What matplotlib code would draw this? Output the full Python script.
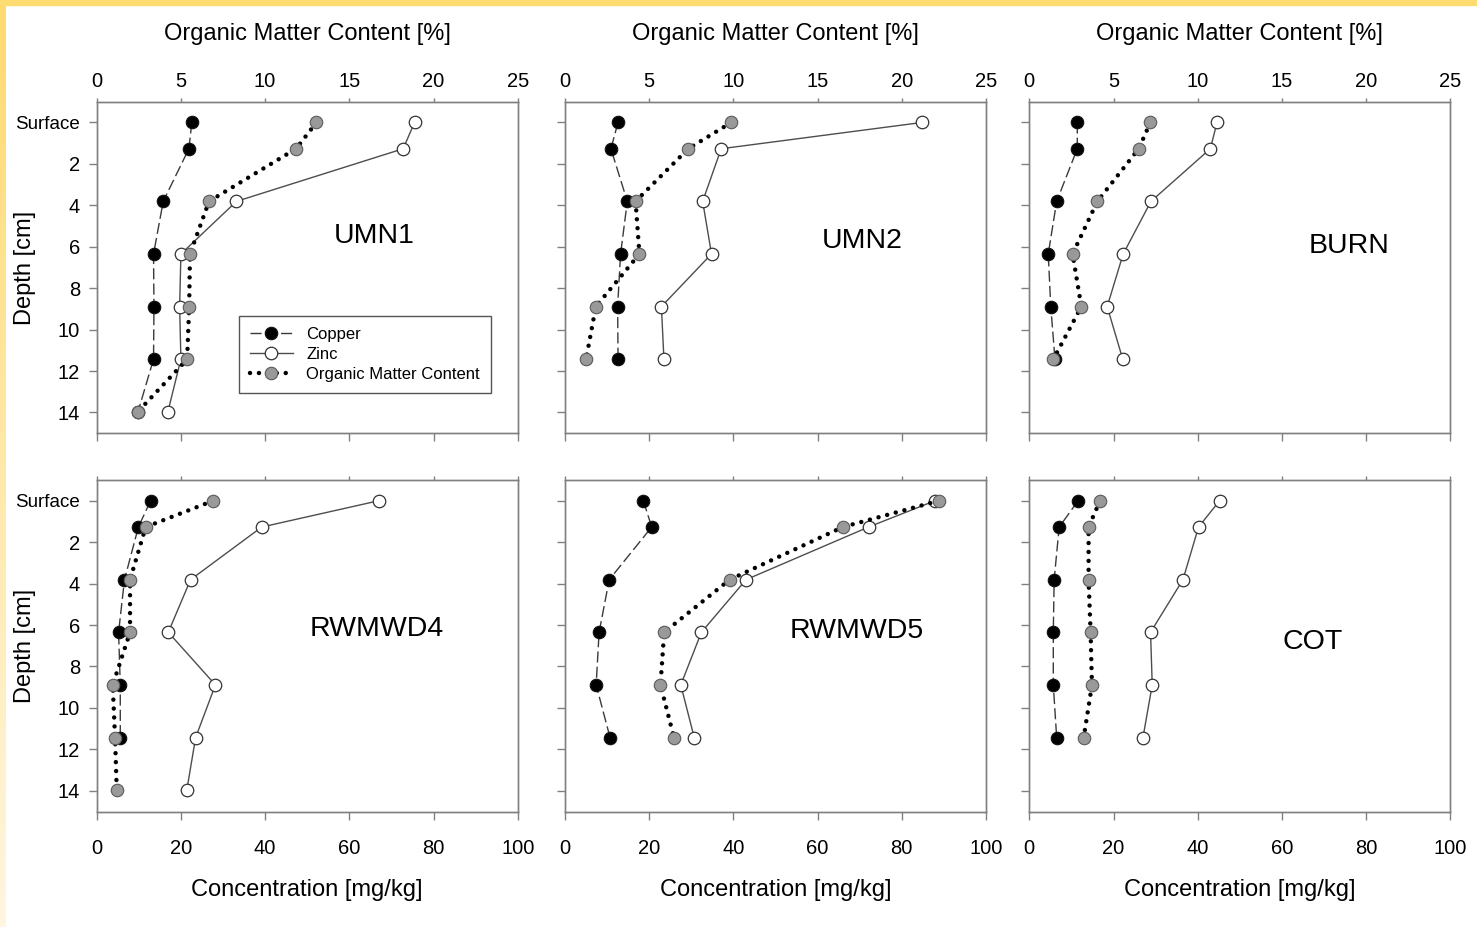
import numpy as np
import matplotlib.pyplot as plt
from matplotlib.lines import Line2D

plt.rcParams['font.family'] = ['Liberation Sans', 'DejaVu Sans']

# sampling depths (cm), surface = 0
depth = [0, 1.27, 3.81, 6.35, 8.89, 11.43, 13.97]

sites = ['UMN1', 'UMN2', 'BURN', 'RWMWD4', 'RWMWD5', 'COT']

# Copper [mg/kg]
umn1_cu = [22.6, 21.9, 15.8, 13.5, 13.6, 13.5, 9.8]
umn2_cu = [12.6, 10.9, 14.8, 13.2, 12.5, 12.6]
burn_cu = [11.4, 11.4, 6.5, 4.5, 5.1, 6.1]
rw4_cu = [12.8, 9.9, 6.6, 5.2, 5.6, 5.6]
rw5_cu = [18.6, 20.6, 10.5, 8.1, 7.4, 10.7]
cot_cu = [11.6, 7.1, 5.9, 5.7, 5.7, 6.5]

# Zinc [mg/kg]
umn1_zn = [75.5, 72.8, 33.2, 20.0, 19.7, 20.0, 16.9]
umn2_zn = [84.9, 37.1, 32.7, 34.8, 22.9, 23.5]
burn_zn = [44.6, 43.0, 28.9, 22.3, 18.5, 22.2]
rw4_zn = [67.0, 39.2, 22.3, 17.0, 28.2, 23.5, 21.4]
rw5_zn = [87.9, 72.1, 43.0, 32.4, 27.5, 30.7]
cot_zn = [45.2, 40.2, 36.5, 28.8, 29.2, 27.0]

# Organic matter content [%]
umn1_om = [13.05, 11.84, 6.67, 5.54, 5.49, 5.37, 2.44]
umn2_om = [9.88, 7.32, 4.19, 4.42, 1.83, 1.25]
burn_om = [7.19, 6.50, 4.04, 2.57, 3.09, 1.43]
rw4_om = [6.92, 2.91, 1.98, 1.98, 0.95, 1.09, 1.19]
rw5_om = [22.2, 16.5, 9.78, 5.89, 5.67, 6.47]
cot_om = [4.2, 3.52, 3.52, 3.64, 3.72, 3.23]

copper = [umn1_cu, umn2_cu, burn_cu, rw4_cu, rw5_cu, cot_cu]
zinc = [umn1_zn, umn2_zn, burn_zn, rw4_zn, rw5_zn, cot_zn]
organic = [umn1_om, umn2_om, burn_om, rw4_om, rw5_om, cot_om]

# where the site name goes (concentration, depth)
label_pos = [(66, 5.5), (70.5, 5.7), (76, 5.95), (66.5, 6.2), (69.3, 6.3), (67.2, 6.8)]

W, H = 1477, 927
fig = plt.figure(figsize=(W / 100, H / 100), dpi=100)

# yellow frame along top and left edge
fig.patches.append(plt.Rectangle((0, 1 - 5 / H), 1, 5 / H, transform=fig.transFigure,
                                 color='#ffdc72', zorder=0))
edge = fig.add_axes([0, 0, 6 / W, 1 - 5 / H])
grad = np.linspace(0, 1, 200)[:, None]
top_c = np.array([1.0, 0.855, 0.44])
bot_c = np.array([1.0, 0.965, 0.88])
edge.imshow((top_c * (1 - grad) + bot_c * grad)[:, :, None].transpose(0, 2, 1),
            aspect='auto', extent=[0, 1, 0, 1])
edge.axis('off')

col_left = [96.7, 565, 1029.3]
row_top = [101.7, 480]
ax_w = 421
ax_h = 331.5

spine_c = '#808080'
cu_style = dict(color='#3a3a3a', lw=1, linestyle=(0, (8, 3)), marker='o', ms=9,
                mfc='black', mec='#111111', mew=0.8)
zn_style = dict(color='#4d4d4d', lw=1, linestyle='-', marker='o', ms=9,
                mfc='white', mec='#333333', mew=0.9)
om_style = dict(color='black', lw=3.2, linestyle=(0, (0.01, 2.0)), dash_capstyle='round',
                marker='o', ms=9, mfc='#999999', mec='#5a5a5a', mew=0.8)

for i, site in enumerate(sites):
    r, c = divmod(i, 3)
    rect = [col_left[c] / W, 1 - (row_top[r] + ax_h) / H, ax_w / W, ax_h / H]
    ax = fig.add_axes(rect)
    ax.plot(copper[i], depth[:len(copper[i])], zorder=2, **cu_style)
    ax.plot(zinc[i], depth[:len(zinc[i])], zorder=3, **zn_style)
    ax.set_xlim(0, 100)
    ax.set_ylim(15, -1)
    ax.set_xticks([0, 20, 40, 60, 80, 100])
    ax.set_yticks([0, 2, 4, 6, 8, 10, 12, 14])
    ax.tick_params(axis='x', direction='out', length=6, width=1, color=spine_c,
                   labelsize=14.5, pad=14, labelbottom=(r == 1))
    ax.tick_params(axis='y', direction='out', length=6, width=1, color=spine_c,
                   labelsize=14.5, pad=6, right=False, labelleft=(c == 0))
    if c == 0:
        ax.set_yticklabels(['Surface', '2', '4', '6', '8', '10', '12', '14'])
        ax.get_yticklabels()[0].set_fontsize(13.5)
    ax.text(label_pos[i][0], label_pos[i][1], site, ha='center', va='center', fontsize=20.5)

    ax2 = ax.twiny()
    ax2.plot(organic[i], depth[:len(organic[i])], zorder=4, **om_style)
    ax2.set_xlim(0, 25)
    ax2.set_xticks([0, 5, 10, 15, 20, 25])
    ax2.tick_params(axis='x', direction='out', length=3, width=1, color=spine_c,
                    labelsize=14.5, pad=4.5, labeltop=(r == 0))
    for a in (ax, ax2):
        for s in a.spines.values():
            s.set_color(spine_c)
            s.set_linewidth(1)

    if i == 0:
        handles = [Line2D([], [], **cu_style), Line2D([], [], **zn_style),
                   Line2D([], [], **om_style)]
        leg = ax2.legend(handles, ['Copper', 'Zinc', 'Organic Matter Content'],
                         loc='lower left', bbox_to_anchor=(0.338, 0.121), borderaxespad=0,
                         fontsize=12, numpoints=1, handlelength=2.6, handletextpad=0.8,
                         labelspacing=0.3, borderpad=0.65, fancybox=False, framealpha=1)
        leg.get_frame().set_edgecolor('#555555')
        leg.get_frame().set_linewidth(1)

for c in range(3):
    xc = (col_left[c] + ax_w / 2) / W
    fig.text(xc, 1 - 34 / H, 'Organic Matter Content [%]', ha='center', va='center', fontsize=17)
    fig.text(xc, 1 - 890 / H, 'Concentration [mg/kg]', ha='center', va='center', fontsize=17)

for r in range(2):
    yc = 1 - (row_top[r] + ax_h / 2) / H
    fig.text(25 / W, yc, 'Depth [cm]', ha='center', va='center', rotation=90, fontsize=17)

fig.savefig('out.png', dpi=100)
